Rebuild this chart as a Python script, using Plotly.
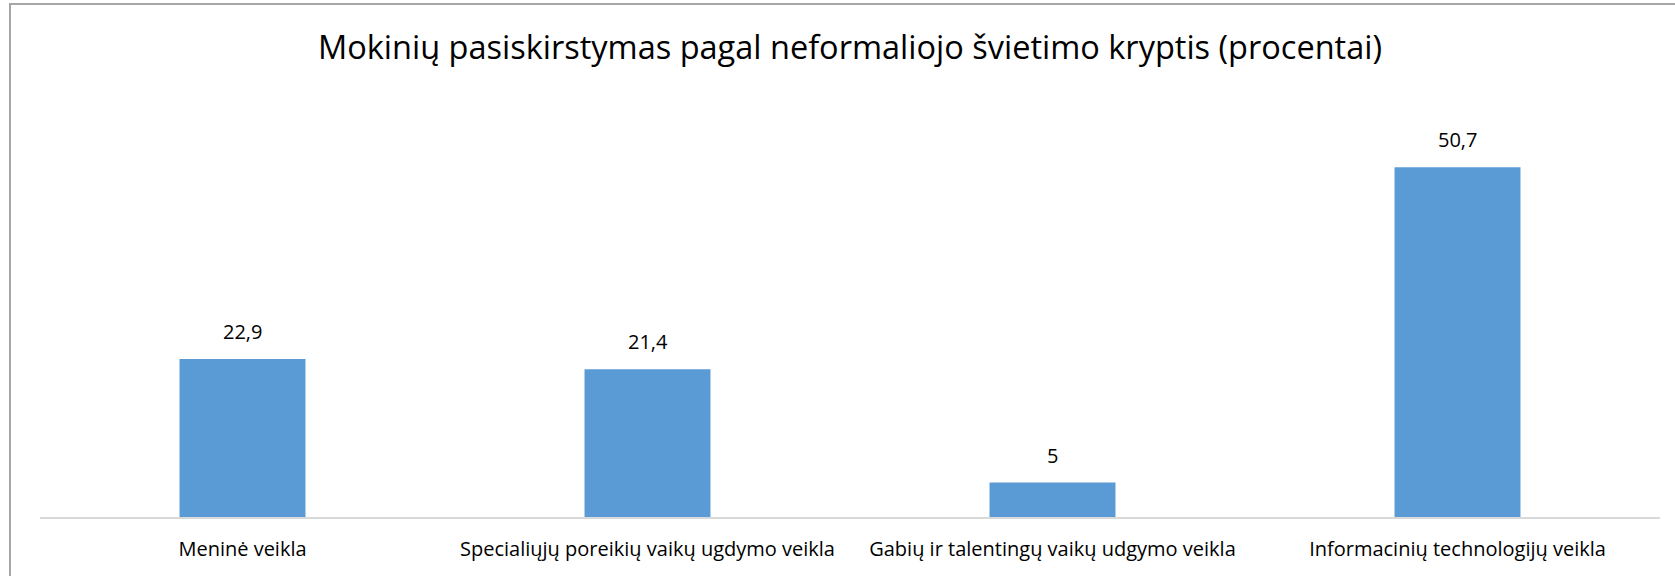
import plotly.graph_objects as go

categories = [
    "Meninė veikla",
    "Specialiųjų poreikių vaikų ugdymo veikla",
    "Gabių ir talentingų vaikų udgymo veikla",
    "Informacinių technologijų veikla",
]
values = [22.9, 21.4, 5, 50.7]
title_text = "Mokinių pasiskirstymas pagal neformaliojo švietimo kryptis (procentai)"

def fmt(v):
    s = ("%g" % v)
    return s.replace(".", ",")

FONT = "Open Sans"
BAR = "#5B9BD5"

fig = go.Figure(
    go.Bar(
        x=categories,
        y=values,
        marker=dict(color=BAR, line=dict(width=0)),
        hoverinfo="skip",
    )
)

for c, v in zip(categories, values):
    fig.add_annotation(
        x=c, y=v, text=fmt(v), showarrow=False,
        yanchor="bottom", yshift=12,
        font=dict(family=FONT, size=20, color="#000000"),
    )

W, H = 1675, 576
L, R, T, B = 40, 15, 103, 59
pw = W - L - R
ph = H - T - B
fx = (10 - L) / pw
fy = (H - B - 4) / ph

fig.add_shape(
    type="path",
    path=f"M {fx} -0.5 L {fx} {fy} L 1.2 {fy}",
    xref="paper", yref="paper",
    line=dict(color="#A6A6A6", width=2),
)

fig.update_layout(
    width=W, height=H,
    margin=dict(l=L, r=R, t=T, b=B),
    paper_bgcolor="white",
    plot_bgcolor="white",
    bargap=0.689,
    showlegend=False,
    hovermode=False,
    title=dict(
        text=title_text,
        x=(L + pw / 2) / W, xanchor="center",
        y=1 - 48 / H, yanchor="middle",
        font=dict(family=FONT, size=32.5, color="#000000"),
    ),
    xaxis=dict(
        showline=True, linecolor="#D9D9D9", linewidth=2,
        ticks="", showgrid=False,
        tickfont=dict(family=FONT, size=20, color="#000000"),
        ticklabelstandoff=13,
    ),
    yaxis=dict(
        range=[0, 60], visible=False, showgrid=False, zeroline=False,
    ),
)

fig.write_html(
    "out.html",
    config={"displayModeBar": False},
    post_script="document.body.style.margin='0px';document.body.style.overflow='hidden';",
)
